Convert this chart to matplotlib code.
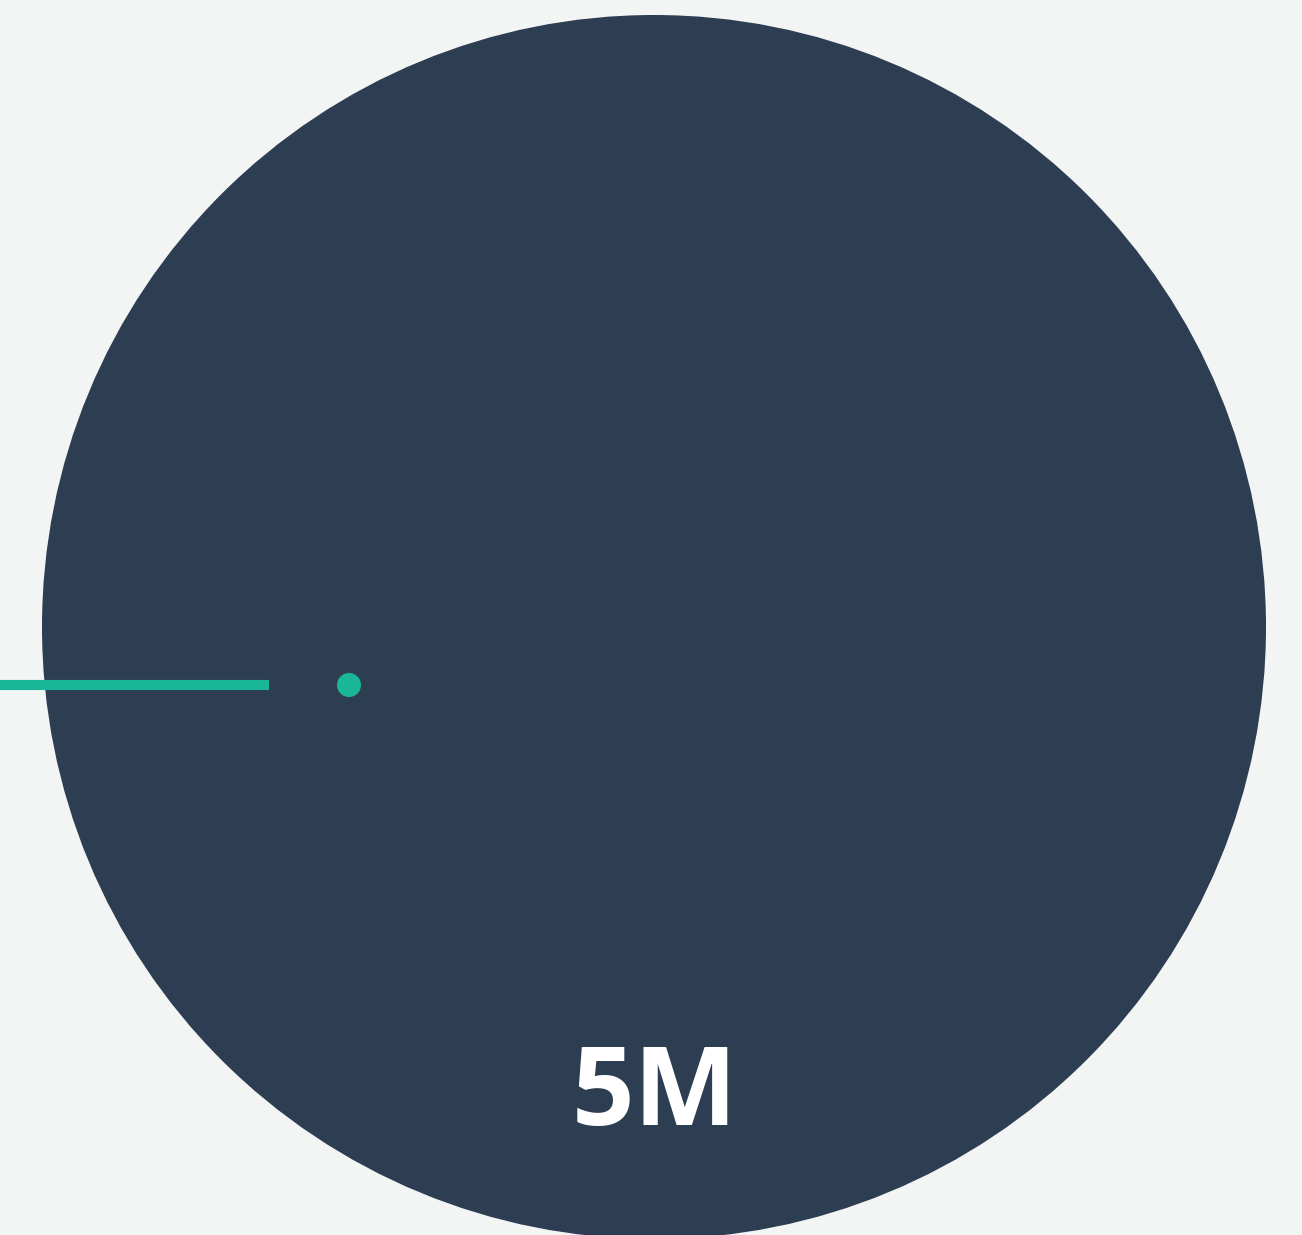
import matplotlib.pyplot as plt
from matplotlib.patches import Circle

# single bubble with a pointer line
labels = ["5M"]
values = [5.0]
bubble_color = "#2d3d52"
accent_color = "#19b797"
bg_color = "#f3f4f4"

W, H = 1302, 1235
fig = plt.figure(figsize=(W / 100, H / 100), dpi=100, facecolor=bg_color)
ax = fig.add_axes([0, 0, 1, 1])
ax.set_xlim(0, W)
ax.set_ylim(H, 0)
ax.set_aspect("equal")
ax.axis("off")
ax.set_facecolor(bg_color)

# bubble radius scaled from value (5M -> ~612 px)
cx, cy = 654, 627
r = 612 * (values[0] / 5.0) ** 0.5
ax.add_patch(Circle((cx, cy), r, color=bubble_color, lw=0))

# pointer line and dot
ax.plot([0, 269], [685, 685], color=accent_color, lw=7.3, solid_capstyle="butt")
ax.add_patch(Circle((349, 685), 12, color=accent_color, lw=0))

ax.text(cx + 1, 1096, labels[0], color="white", fontsize=79, fontweight="bold",
        family=["Open Sans", "DejaVu Sans"], ha="center", va="center")

fig.savefig("out.png", dpi=100, facecolor=bg_color)
